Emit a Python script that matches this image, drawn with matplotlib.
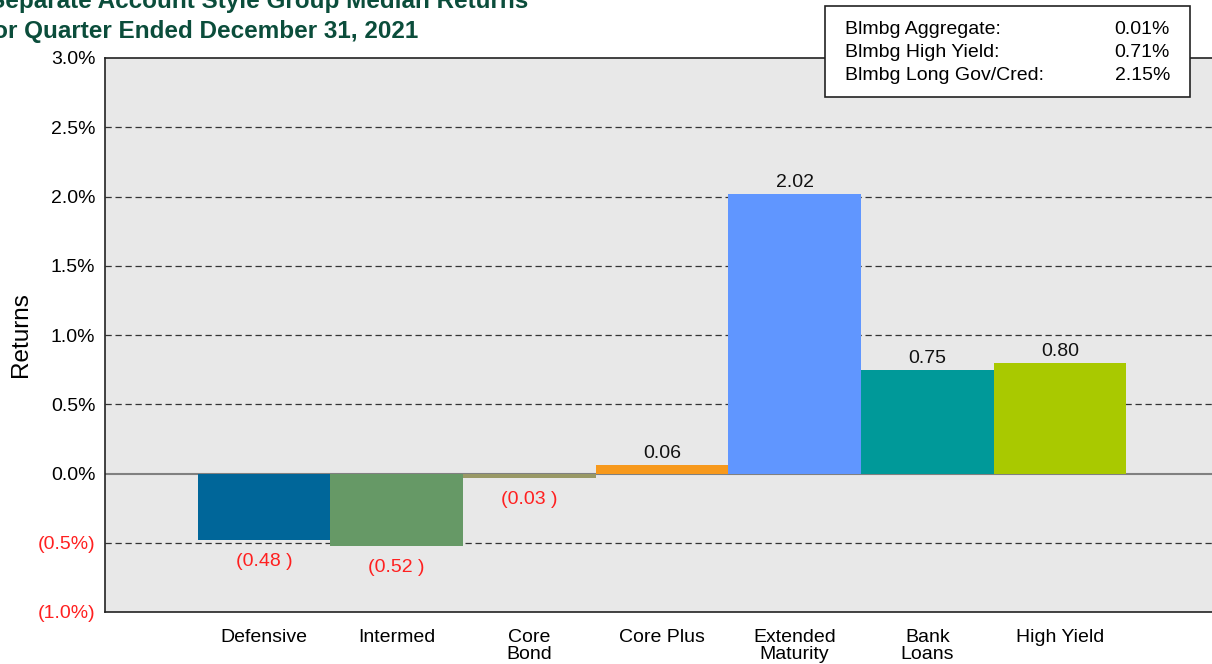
import matplotlib.pyplot as plt
from matplotlib.patches import Rectangle

plt.rcParams["font.family"] = ["Liberation Sans", "DejaVu Sans"]

categories = ["Defensive", "Intermed", "Core\nBond", "Core Plus",
              "Extended\nMaturity", "Bank\nLoans", "High Yield"]
returns = [-0.48, -0.52, -0.03, 0.06, 2.02, 0.75, 0.80]
bar_colors = ["#006699", "#669966", "#999966", "#F7991C",
              "#6096FF", "#009999", "#A9C900"]

index_names = ["Blmbg Aggregate:", "Blmbg High Yield:", "Blmbg Long Gov/Cred:"]
index_values = ["0.01%", "0.71%", "2.15%"]

y_ticks = [-1.0, -0.5, 0.0, 0.5, 1.0, 1.5, 2.0, 2.5, 3.0]

W, H = 1212, 664
fig = plt.figure(figsize=(W / 100, H / 100), dpi=100)

# axes runs past the right edge of the picture, like the source
ax = fig.add_axes([105 / W, 1 - 612 / H, (1240 - 105) / W, (612 - 58) / H])
ax.set_facecolor("#E8E8E8")

x = list(range(len(categories)))
ax.bar(x, returns, width=1.0, color=bar_colors, zorder=3)

ax.set_xlim(-1.198, 6 + (1240 - 1060) / 132.7)
ax.set_ylim(-1.0, 3.0)

for yv in y_ticks:
    if yv in (-1.0, 0.0, 3.0):
        continue
    ax.axhline(yv, color="#333333", lw=0.9, ls=(0, (5, 3)), zorder=1)
ax.axhline(0, color="#808080", lw=1.5, zorder=2)

fs = 14
ax.set_yticks(y_ticks)
labels = []
for yv in y_ticks:
    if yv < 0:
        labels.append(f"({abs(yv):.1f}%)")
    else:
        labels.append(f"{yv:.1f}%")
ax.set_yticklabels(labels, fontsize=fs)
for lab, yv in zip(ax.get_yticklabels(), y_ticks):
    if yv < 0:
        lab.set_color("#FF2020")

ax.set_xticks(x)
ax.set_xticklabels(categories, fontsize=fs, linespacing=1.05, va="top")
ax.tick_params(axis="x", length=0, pad=12)
ax.tick_params(axis="y", length=0, pad=7)

for s in ["left", "bottom", "top", "right"]:
    ax.spines[s].set_color("#222222")
    ax.spines[s].set_linewidth(1.2)

ax.set_ylabel("Returns", fontsize=17.5, labelpad=4)

for xi, v in zip(x, returns):
    if v >= 0:
        ax.annotate(f"{v:.2f}", (xi, v), xytext=(0, 2), textcoords="offset points",
                    ha="center", va="bottom", fontsize=fs, color="#111111", zorder=4)
    else:
        ax.annotate(f"({abs(v):.2f} )", (xi, v), xytext=(0, -9.5), textcoords="offset points",
                    ha="center", va="top", fontsize=fs, color="#FF2020", zorder=4)

# title, clipped at the left edge in the source
green = "#0B4D3B"
fig.text(528 / W, 1 - 8 / H, "Separate Account Style Group Median Returns",
         ha="right", va="baseline", fontsize=17.5, fontweight="bold", color=green)
fig.text(418 / W, 1 - 38 / H, "for Quarter Ended December 31, 2021",
         ha="right", va="baseline", fontsize=17.5, fontweight="bold", color=green)

# index box
fig.patches.append(Rectangle((825 / W, 1 - 97 / H), (1190 - 825) / W, (97 - 6) / H,
                             transform=fig.transFigure, facecolor="white",
                             edgecolor="#222222", lw=1.2, zorder=5))
for i, (nm, val) in enumerate(zip(index_names, index_values)):
    yy = 1 - (30 + i * 22.5) / H
    fig.text(845 / W, yy, nm, ha="left", va="center", fontsize=fs, zorder=6)
    fig.text(1170 / W, yy, val, ha="right", va="center", fontsize=fs, zorder=6)

plt.savefig("out.png", dpi=100)
plt.close()
